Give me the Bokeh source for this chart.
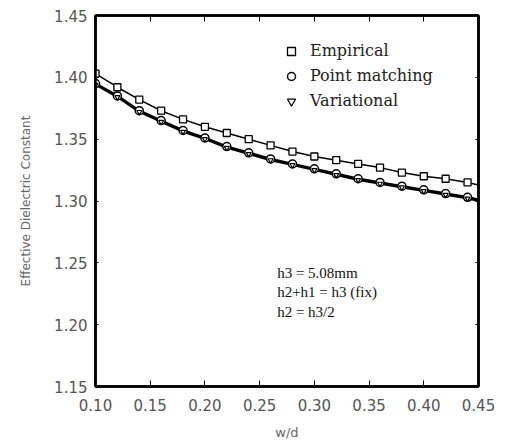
from bokeh.plotting import figure
from bokeh.models import (ColumnDataSource, CDSView, IndexFilter, Legend, LegendItem,
                          LinearAxis, FixedTicker, PrintfTickFormatter, Label, Range1d,
                          CustomLabelingPolicy)
from bokeh.embed import file_html
from bokeh.resources import INLINE

# ---- data ----
w_over_d = [0.10, 0.12, 0.14, 0.16, 0.18, 0.20, 0.22, 0.24, 0.26, 0.28,
            0.30, 0.32, 0.34, 0.36, 0.38, 0.40, 0.42, 0.44, 0.45]
empirical = [1.403, 1.392, 1.382, 1.373, 1.366, 1.360, 1.355, 1.350, 1.345, 1.340,
             1.336, 1.333, 1.330, 1.327, 1.323, 1.320, 1.318, 1.315, 1.313]
point_matching = [1.395, 1.385, 1.373, 1.365, 1.357, 1.351, 1.344, 1.339, 1.334, 1.330,
                  1.326, 1.322, 1.318, 1.315, 1.312, 1.309, 1.306, 1.303, 1.301]
variational = [1.394, 1.384, 1.372, 1.364, 1.356, 1.350, 1.343, 1.338, 1.333, 1.329,
               1.325, 1.321, 1.317, 1.314, 1.311, 1.308, 1.305, 1.302, 1.300]
x_ticks = [0.10, 0.15, 0.20, 0.25, 0.30, 0.35, 0.40, 0.45]
y_ticks = [1.15, 1.20, 1.25, 1.30, 1.35, 1.40, 1.45]
notes = ["h3 = 5.08mm", "h2+h1 = h3 (fix)", "h2 = h3/2"]

src = ColumnDataSource(dict(x=w_over_d, emp=empirical, pm=point_matching, var=variational))
marker_view = CDSView(filter=IndexFilter(list(range(len(w_over_d) - 1))))

TICK_FONT = "DejaVu Sans"
SERIF = "Liberation Serif"

p = figure(width=502, height=442, output_backend="svg", toolbar_location=None,
           x_range=Range1d(0.10, 0.45), y_range=Range1d(1.15, 1.45),
           min_border_left=95, min_border_right=19, min_border_top=15, min_border_bottom=55)
p.background_fill_color = "white"
p.border_fill_color = "white"
p.grid.visible = False
p.outline_line_color = "black"
p.outline_line_width = 2.5

# axes
for ax in (p.xaxis[0], p.yaxis[0]):
    ax.axis_line_width = 2.5
    ax.axis_line_color = "black"
    ax.major_tick_out = 0
    ax.minor_tick_in = 0
    ax.minor_tick_out = 0
    ax.major_label_text_font = TICK_FONT
    ax.major_label_text_font_size = "15px"
    ax.major_label_text_color = "#555555"
    ax.axis_label_text_font = TICK_FONT
    ax.axis_label_text_font_style = "normal"
    ax.axis_label_text_color = "#666666"
    ax.formatter = PrintfTickFormatter(format="%.2f")

p.xaxis.ticker = FixedTicker(ticks=x_ticks)
p.yaxis.ticker = FixedTicker(ticks=y_ticks)
p.xaxis.major_tick_in = 6
p.yaxis.major_tick_in = 3
p.xaxis.major_label_standoff = 12
p.yaxis.major_label_standoff = 8
p.xaxis.axis_label = "w/d"
p.xaxis.axis_label_text_font_size = "13px"
p.xaxis.axis_label_standoff = 11
p.yaxis.axis_label = "Effective Dielectric Constant"
p.yaxis.axis_label_text_font_size = "12px"
p.yaxis.axis_label_standoff = 18

no_labels = CustomLabelingPolicy(code="return new Set()")
top = LinearAxis(ticker=FixedTicker(ticks=x_ticks), major_label_policy=no_labels,
                 major_tick_in=6, major_tick_out=0, minor_tick_in=0, minor_tick_out=0,
                 axis_line_width=2.5, major_label_standoff=0)
right = LinearAxis(ticker=FixedTicker(ticks=y_ticks), major_label_policy=no_labels,
                   major_tick_in=3, major_tick_out=0, minor_tick_in=0, minor_tick_out=0,
                   axis_line_width=2.5, major_label_standoff=0)
p.add_layout(top, "above")
p.add_layout(right, "right")

# lines
p.line("x", "emp", source=src, line_color="black", line_width=1.5)
p.line("x", "pm", source=src, line_color="black", line_width=2.5)
p.line("x", "var", source=src, line_color="black", line_width=2.0)

# markers
r_emp = p.scatter("x", "emp", source=src, view=marker_view, marker="square", size=7,
                  fill_color="white", line_color="black", line_width=1.3)
r_pm = p.scatter("x", "pm", source=src, view=marker_view, marker="circle", size=8,
                 fill_color="white", line_color="black", line_width=1.5)
r_var = p.scatter("x", "var", source=src, view=marker_view, marker="inverted_triangle", size=5,
                  fill_color="white", line_color="black", line_width=1.2)

legend = Legend(items=[LegendItem(label="Empirical", renderers=[r_emp]),
                       LegendItem(label="Point matching", renderers=[r_pm]),
                       LegendItem(label="Variational", renderers=[r_var])],
                location=(186, 273), padding=0, spacing=0, label_height=25,
                glyph_width=20, glyph_height=20, label_standoff=9,
                border_line_color=None, background_fill_alpha=0,
                label_text_font="DejaVu Serif", label_text_font_size="16px",
                label_text_color="#222222")
p.add_layout(legend)

for i, t in enumerate(notes):
    p.add_layout(Label(x=0.266, y=1.242 - i * 0.0157, text=t, text_font=SERIF,
                       text_font_size="15px", text_baseline="middle",
                       text_color="#111111"))

open("out.html", "w").write(file_html(p, INLINE))
